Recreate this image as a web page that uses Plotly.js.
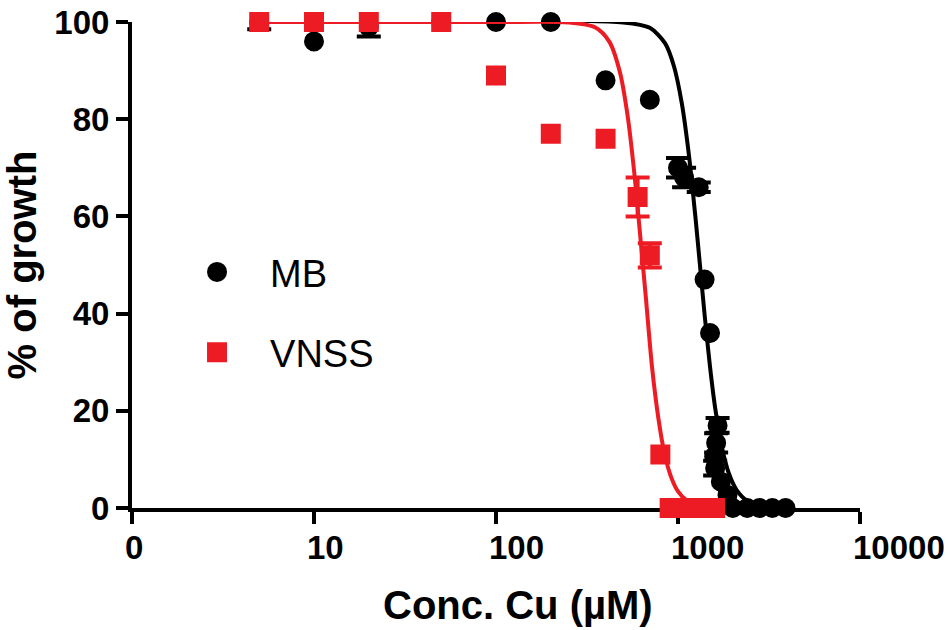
<!DOCTYPE html>
<html>
<head>
<meta charset="utf-8">
<script src="https://cdn.plot.ly/plotly-3.0.1.min.js"></script>
<style>html,body{margin:0;padding:0;background:#fff;}#chart{width:951px;height:630px;}</style>
</head>
<body>
<div id="chart"></div>
<script>
// ---- data ----
var xTickVals = [1, 10, 100, 1000, 10000];
var xTickText = ['0', '10', '100', '1000', '10000'];
var yTickVals = [0, 20, 40, 60, 80, 100];
var xTitle = 'Conc. Cu (µM)';
var yTitle = '% of growth';

var mbX   = [5, 10, 20, 50, 100, 200, 400, 700, 1000, 1080, 1300, 1400, 1500, 1650, 1620, 1580, 1600, 1720, 1870, 2000, 2400, 2800, 3300, 3900];
var mbY   = [100, 96, 99, 100, 100, 100, 88, 84, 70, 68, 66, 47, 36, 17, 13.4, 10.6, 8.2, 5.4, 2.7, 0, 0, 0, 0, 0];
var mbErr = [1.5, NaN, 2, NaN, NaN, NaN, NaN, NaN, 2, 2, 1, NaN, NaN, 1.5, 2, NaN, 1.5, NaN, NaN, NaN, NaN, NaN, NaN, NaN];

var vnX   = [5, 10, 20, 50, 100, 200, 400, 600, 700, 800, 900, 1000, 1100, 1200, 1300, 1400, 1500, 1600];
var vnY   = [100, 100, 100, 100, 89, 77, 76, 64, 52, 11, 0, 0, 0, 0, 0, 0, 0, 0];
var vnErr = [NaN, NaN, NaN, NaN, NaN, NaN, NaN, 4, 2.5, NaN, NaN, NaN, NaN, NaN, NaN, NaN, NaN, NaN];

// fitted curves
var mbCurveX = [5, 500, 700, 850, 950, 1050, 1150, 1250, 1320, 1400, 1500, 1600, 1750, 1900, 2100, 2400, 3000, 3900];
var mbCurveY = [100, 99.9, 98.8, 95.6, 90.9, 83.2, 72.4, 59.4, 50, 39.8, 29, 20.6, 12.2, 7.2, 3.7, 1.5, 0.3, 0];
var vnCurveX = [5, 100, 250, 350, 420, 480, 530, 575, 620, 667, 720, 780, 842, 920, 1000, 1110, 1300, 1600];
var vnCurveY = [100, 100, 99.9, 98.9, 95.9, 89.6, 80.4, 69, 56, 43, 29, 18.5, 11.3, 6.2, 3.4, 1.6, 0.3, 0];

var BLACK = '#000000';
var RED = '#ED1C24';

var traces = [
  {x: mbCurveX, y: mbCurveY, mode: 'lines', line: {color: BLACK, width: 4, shape: 'spline', smoothing: 0.8},
   showlegend: false, hoverinfo: 'skip', cliponaxis: false},
  {x: mbX, y: mbY, mode: 'markers', name: 'MB', legendgroup: 'a',
   marker: {symbol: 'circle', size: 16, color: BLACK, line: {color: BLACK, width: 4}},
   error_y: {type: 'data', array: mbErr, visible: true, color: BLACK, thickness: 4, width: 12},
   cliponaxis: false},
  {x: vnCurveX, y: vnCurveY, mode: 'lines', line: {color: RED, width: 4, shape: 'spline', smoothing: 0.8},
   showlegend: false, hoverinfo: 'skip', cliponaxis: false},
  {x: vnX, y: vnY, mode: 'markers', name: 'VNSS', legendgroup: 'b',
   marker: {symbol: 'square', size: 16, color: RED, line: {color: RED, width: 4}},
   error_y: {type: 'data', array: vnErr, visible: true, color: RED, thickness: 4, width: 12},
   cliponaxis: false}
];

var tickFont = {family: 'Liberation Sans, Arial, sans-serif', size: 33, color: '#000', weight: 'bold'};
var titleFont = {family: 'Liberation Sans, Arial, sans-serif', size: 40, color: '#000', weight: 'bold'};

var layout = {
  width: 951, height: 630,
  margin: {l: 132, r: 91, t: 22, b: 122, pad: 0},
  paper_bgcolor: '#fff', plot_bgcolor: '#fff',
  showlegend: true,
  legend: {x: 0.044, y: 0.55, xanchor: 'left', yanchor: 'top', bgcolor: 'rgba(0,0,0,0)',
           font: {family: 'Liberation Sans, Arial, sans-serif', size: 38, color: '#000'},
           traceorder: 'grouped', tracegroupgap: 28, itemwidth: 96},
  xaxis: {
    type: 'log', range: [0, 4], tickmode: 'array', tickvals: xTickVals, ticktext: xTickText,
    ticks: 'outside', ticklen: 12, tickwidth: 4, tickcolor: '#000',
    showline: true, linewidth: 4, linecolor: '#000', showgrid: false, zeroline: false,
    tickfont: tickFont, ticklabelposition: 'outside right', ticklabelshift: -11,
    ticklabelstandoff: 7, ticklabeloverflow: 'allow', layer: 'below traces'
  },
  yaxis: {
    range: [0, 100], tickmode: 'array', tickvals: yTickVals,
    ticks: 'outside', ticklen: 12, tickwidth: 4, tickcolor: '#000',
    showline: true, linewidth: 4, linecolor: '#000', showgrid: false, zeroline: false,
    tickfont: tickFont, layer: 'below traces',
    title: {text: yTitle, font: titleFont, standoff: 12}
  },
  annotations: [
    {text: xTitle, xref: 'paper', yref: 'paper', x: 0.530, y: -0.200, xanchor: 'center', yanchor: 'middle',
     showarrow: false, font: titleFont}
  ]
};

Plotly.newPlot('chart', traces, layout, {displayModeBar: false, staticPlot: true});
</script>
</body>
</html>
